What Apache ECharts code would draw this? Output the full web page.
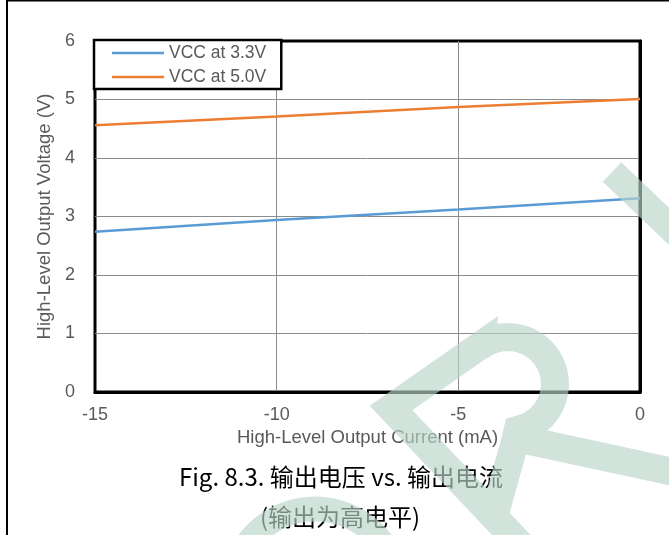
<!DOCTYPE html>
<html><head><meta charset="utf-8">
<script src="https://cdn.jsdelivr.net/npm/echarts@6/dist/echarts.min.js"></script>
<style>html,body{margin:0;padding:0;background:#fff}#c{width:669px;height:535px}</style>
</head><body><div id="c"></div>
<script>
// ---- data ----
const seriesNames = ['VCC at 3.3V', 'VCC at 5.0V'];
const currentMA = [-15, -10, -5, 0];
const vcc33 = [2.74, 2.94, 3.12, 3.31];
const vcc50 = [4.56, 4.71, 4.87, 5.01];
const xTicks = [-15, -10, -5, 0];
const yTicks = [0, 1, 2, 3, 4, 5, 6];
const xTitle = 'High-Level Output Current (mA)';
const yTitle = 'High-Level Output Voltage (V)';
const caption1 = 'Fig. 8.3. 输出电压 vs. 输出电流';
const caption2 = '(输出为高电平)';

const FONT = '"Liberation Sans", Arial, sans-serif';
const CJK = '"Noto Sans CJK SC", sans-serif';
const WM = 'rgba(186,212,201,0.65)';

// watermark stroke (decoration, drawn as one path so overlaps are not doubled)
function wmPath() {
  const pts = [[535, 560], [391, 408], [481, 345]];
  const cx = 508, cy = 384, r = 47;
  const a0 = Math.atan2(-0.818, -0.576);
  const a1 = 78 * Math.PI / 180;
  const n = 24;
  for (let i = 0; i <= n; i++) {
    const a = a0 + (a1 - a0) * i / n;
    pts.push([cx + r * Math.cos(a), cy + r * Math.sin(a)]);
  }
  pts.push([516, 438], [494, 517], [516, 438], [720, 482]);
  return pts;
}

const chart = echarts.init(document.getElementById('c'), null, {renderer: 'canvas'});
const gridL = 95, gridT = 41, gridW = 545, gridH = 351;
chart.setOption({
  animation: false,
  backgroundColor: '#fff',
  grid: {left: gridL, top: gridT, width: gridW, height: gridH, show: true, borderColor: '#000', borderWidth: 3, backgroundColor: 'transparent'},
  legend: {
    data: seriesNames, left: 94, top: 40, orient: 'vertical',
    backgroundColor: '#fff', borderColor: '#000', borderWidth: 2.5,
    padding: [4, 15, 3, 18], itemWidth: 52, itemHeight: 2.5, itemGap: 6,
    icon: 'rect',
    textStyle: {fontSize: 17.5, color: '#595959', fontFamily: FONT, padding: [0, 0, 0, 0]}
  },
  xAxis: {
    type: 'value', min: xTicks[0], max: xTicks[xTicks.length - 1], interval: xTicks[1] - xTicks[0],
    name: xTitle, nameLocation: 'middle', nameGap: 35,
    nameTextStyle: {fontSize: 18.5, color: '#595959', fontFamily: FONT},
    axisLine: {show: true, onZero: false, lineStyle: {color: '#000', width: 3}},
    axisTick: {show: false},
    axisLabel: {fontSize: 18, color: '#595959', fontFamily: FONT, margin: 14},
    splitLine: {show: true, showMinLine: false, showMaxLine: false, lineStyle: {color: '#8c8c8c', width: 1}}
  },
  yAxis: {
    type: 'value', min: yTicks[0], max: yTicks[yTicks.length - 1], interval: yTicks[1] - yTicks[0],
    name: yTitle, nameLocation: 'middle', nameGap: 37,
    nameTextStyle: {fontSize: 18.5, color: '#595959', fontFamily: FONT},
    axisLine: {show: true, lineStyle: {color: '#000', width: 3}},
    axisTick: {show: false},
    axisLabel: {fontSize: 18, color: '#595959', fontFamily: FONT, margin: 20},
    splitLine: {show: true, showMinLine: false, showMaxLine: false, lineStyle: {color: '#8c8c8c', width: 1}}
  },
  series: [
    {name: seriesNames[0], type: 'line', symbol: 'none', color: '#5B9BD5',
     lineStyle: {width: 2.5, color: '#5B9BD5'}, data: currentMA.map((x, i) => [x, vcc33[i]])},
    {name: seriesNames[1], type: 'line', symbol: 'none', color: '#ED7D31',
     lineStyle: {width: 2.5, color: '#ED7D31'}, data: currentMA.map((x, i) => [x, vcc50[i]])}
  ],
  graphic: [
    {type: 'line', shape: {x1: 7, y1: 0, x2: 7, y2: 535}, style: {stroke: '#000', lineWidth: 2}, z: 50},
    {type: 'line', shape: {x1: 6, y1: 0.5, x2: 669, y2: 0.5}, style: {stroke: '#000', lineWidth: 2}, z: 50},
    {type: 'text', x: 341, y: 477, style: {text: caption1, font: '24px ' + CJK, fill: '#000', textAlign: 'center', textVerticalAlign: 'middle'}, z: 50},
    {type: 'text', x: 340, y: 517, style: {text: caption2, font: '24px ' + CJK, fill: '#000', textAlign: 'center', textVerticalAlign: 'middle'}, z: 50},
    {type: 'polyline', shape: {points: wmPath()}, style: {stroke: WM, lineWidth: 28, fill: null, lineJoin: 'miter', lineCap: 'butt'}, z: 100, silent: true},
    {type: 'line', shape: {x1: 612, y1: 172, x2: 720, y2: 275}, style: {stroke: WM, lineWidth: 27, lineCap: 'butt'}, z: 100, silent: true},
    {type: 'arc', shape: {cx: 315, cy: 592, r: 83, startAngle: Math.PI, endAngle: 2 * Math.PI, clockwise: true}, style: {stroke: WM, lineWidth: 25, fill: null}, z: 100, silent: true}
  ]
});
</script></body></html>
